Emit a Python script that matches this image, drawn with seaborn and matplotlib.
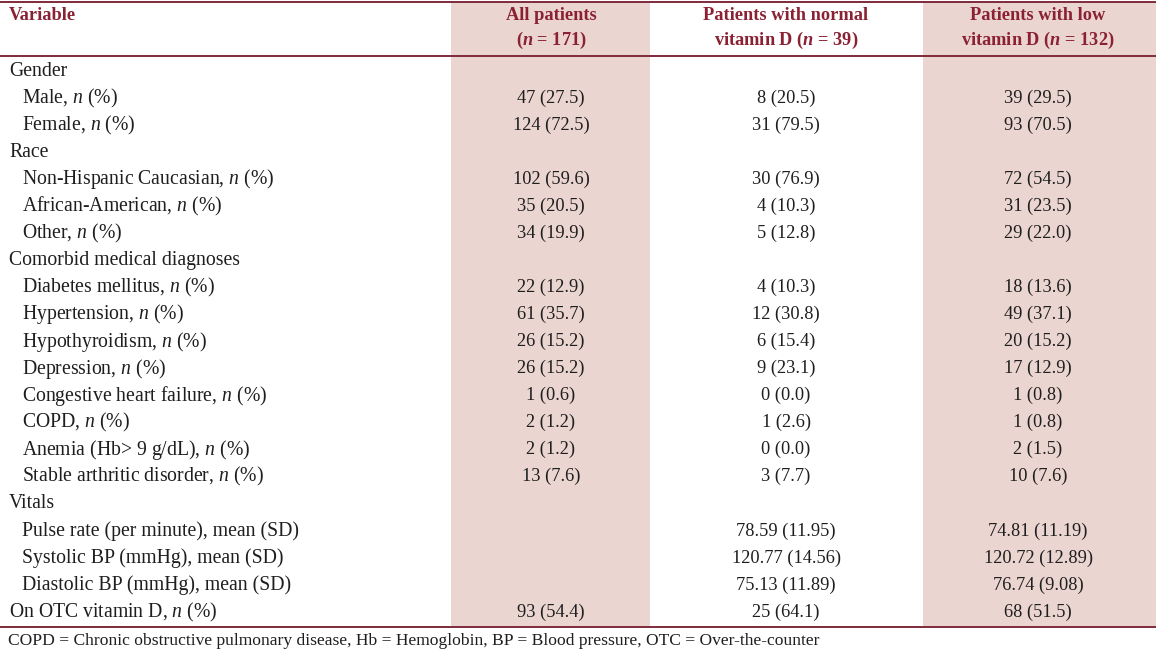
import matplotlib
matplotlib.use("Agg")
import matplotlib.pyplot as plt
import seaborn as sns

# ---- table content ----
headers = ["Variable",
           "All patients\n($\\mathbfit{n}$ = 171)",
           "Patients with normal\nvitamin D ($\\mathbfit{n}$ = 39)",
           "Patients with low\nvitamin D ($\\mathbfit{n}$ = 132)"]

labels = ["Gender", "Male, $n$ (%)", "Female, $n$ (%)",
          "Race", "Non-Hispanic Caucasian, $n$ (%)", "African-American, $n$ (%)", "Other, $n$ (%)",
          "Comorbid medical diagnoses", "Diabetes mellitus, $n$ (%)", "Hypertension, $n$ (%)",
          "Hypothyroidism, $n$ (%)", "Depression, $n$ (%)", "Congestive heart failure, $n$ (%)",
          "COPD, $n$ (%)", "Anemia (Hb> 9 g/dL), $n$ (%)", "Stable arthritic disorder, $n$ (%)",
          "Vitals", "Pulse rate (per minute), mean (SD)", "Systolic BP (mmHg), mean (SD)",
          "Diastolic BP (mmHg), mean (SD)", "On OTC vitamin D, $n$ (%)"]
indent = [0, 1, 1, 0, 1, 1, 1, 0, 1, 1, 1, 1, 1, 1, 1, 1, 0, 1, 1, 1, 0]

all_patients = ["", "47 (27.5)", "124 (72.5)", "", "102 (59.6)", "35 (20.5)", "34 (19.9)",
                "", "22 (12.9)", "61 (35.7)", "26 (15.2)", "26 (15.2)", "1 (0.6)", "2 (1.2)",
                "2 (1.2)", "13 (7.6)", "", "", "", "", "93 (54.4)"]
normal_vitd = ["", "8 (20.5)", "31 (79.5)", "", "30 (76.9)", "4 (10.3)", "5 (12.8)",
               "", "4 (10.3)", "12 (30.8)", "6 (15.4)", "9 (23.1)", "0 (0.0)", "1 (2.6)",
               "0 (0.0)", "3 (7.7)", "", "78.59 (11.95)", "120.77 (14.56)", "75.13 (11.89)",
               "25 (64.1)"]
low_vitd = ["", "39 (29.5)", "93 (70.5)", "", "72 (54.5)", "31 (23.5)", "29 (22.0)",
            "", "18 (13.6)", "49 (37.1)", "20 (15.2)", "17 (12.9)", "1 (0.8)", "1 (0.8)",
            "2 (1.5)", "10 (7.6)", "", "74.81 (11.19)", "120.72 (12.89)", "76.74 (9.08)",
            "68 (51.5)"]

footnote = ("COPD = Chronic obstructive pulmonary disease, Hb = Hemoglobin, "
            "BP = Blood pressure, OTC = Over-the-counter")

# ---- style ----
sns.set_theme(style="white")
plt.rcParams['font.family'] = ['Liberation Serif', 'DejaVu Serif']
plt.rcParams['mathtext.fontset'] = 'custom'
plt.rcParams['mathtext.rm'] = 'Liberation Serif'
plt.rcParams['mathtext.it'] = 'Liberation Serif:italic'
plt.rcParams['mathtext.bf'] = 'Liberation Serif:bold'
plt.rcParams['mathtext.bfit'] = 'Liberation Serif:italic:bold'

maroon = "#8a2234"
line_col = "#7f2b3b"
shade = "#ebd5d0"
body = "#1e1e1e"

W, H = 1156, 651
fig = plt.figure(figsize=(W / 100, H / 100), dpi=100)
ax = fig.add_axes([0, 0, 1, 1])
ax.set_xlim(0, W)
ax.set_ylim(H, 0)
ax.axis("off")

# column geometry (pixels)
col_centers = [None, 551, 786, 1038]
shaded_cols = [(451, 650), (923, W)]
top_y, head_y, bot_y = 2, 56, 627
row0, step = 71, 27.05

for x0, x1 in shaded_cols:
    ax.axvspan(x0, x1, ymin=1 - bot_y / H, ymax=1 - top_y / H, color=shade, lw=0, zorder=0)

for y in (top_y, head_y, bot_y):
    ax.axhline(y, color=line_col, lw=1.4, zorder=2)

fs = 13.2
fs_lab = 14.2
# header
ax.text(9, 16, headers[0], ha="left", va="center", fontsize=fs, fontweight="bold", color=maroon)
for cx, h in zip(col_centers[1:], headers[1:]):
    l1, l2 = h.split("\n")
    ax.text(cx, 16, l1, ha="center", va="center", fontsize=fs, fontweight="bold", color=maroon)
    ax.text(cx, 40, l2, ha="center", va="center", fontsize=fs, fontweight="bold", color=maroon)

# body rows
for i, lab in enumerate(labels):
    y = row0 + i * step
    ax.text(9 + 13 * indent[i], y, lab, ha="left", va="center", fontsize=fs_lab, color=body)
    for cx, col in zip(col_centers[1:], (all_patients, normal_vitd, low_vitd)):
        if col[i]:
            ax.text(cx, y, col[i], ha="center", va="center", fontsize=fs, color=body)

ax.text(8, 641, footnote, ha="left", va="center", fontsize=12.6, color=body)

fig.savefig("out.png", dpi=100)
